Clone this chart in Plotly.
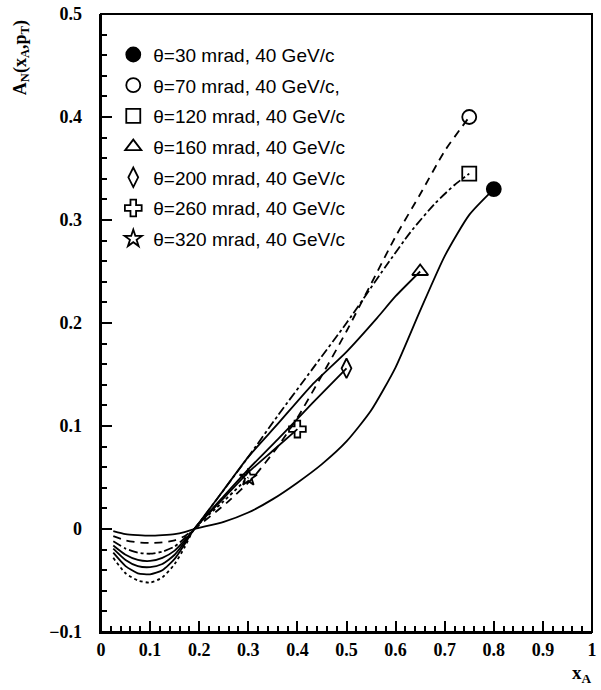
import plotly.graph_objects as go

# Analysing power A_N(x_A, p_T) versus x_A for several production angles at 40 GeV/c.
x_low = [0.025, 0.05, 0.075, 0.1, 0.125, 0.15, 0.17, 0.19]

x_30 = x_low + [0.25, 0.3, 0.35, 0.4, 0.45, 0.5, 0.55, 0.6, 0.65, 0.7, 0.75, 0.8]
y_30 = [-0.002, -0.005, -0.006, -0.0065, -0.006, -0.005, -0.003, 0,
        0.007, 0.016, 0.029, 0.045, 0.063, 0.085, 0.115, 0.157, 0.212, 0.265, 0.305, 0.33]

x_70 = x_low + [0.26, 0.31, 0.36, 0.40, 0.445, 0.5, 0.55, 0.6, 0.65, 0.7, 0.75]
y_70 = [-0.007, -0.011, -0.013, -0.0135, -0.013, -0.011, -0.007, 0,
        0.027, 0.05, 0.08, 0.108, 0.145, 0.192, 0.238, 0.284, 0.325, 0.367, 0.40]

x_120 = x_low + [0.25, 0.3, 0.36, 0.43, 0.5, 0.58, 0.63, 0.68, 0.72, 0.75]
y_120 = [-0.012, -0.019, -0.023, -0.024, -0.022, -0.017, -0.009, 0,
         0.038, 0.07, 0.11, 0.155, 0.2, 0.255, 0.288, 0.316, 0.334, 0.345]

x_160 = x_low + [0.25, 0.3, 0.36, 0.43, 0.5, 0.5625, 0.6, 0.65]
y_160 = [-0.016, -0.025, -0.030, -0.031, -0.028, -0.021, -0.011, 0,
         0.038, 0.07, 0.102, 0.14, 0.172, 0.205, 0.226, 0.25]

x_200 = x_low + [0.25, 0.3, 0.36, 0.43, 0.5]
y_200 = [-0.019, -0.030, -0.036, -0.037, -0.034, -0.025, -0.013, 0,
         0.032, 0.058, 0.087, 0.122, 0.156]

x_260 = x_low + [0.25, 0.3, 0.35, 0.4]
y_260 = [-0.023, -0.036, -0.043, -0.044, -0.040, -0.029, -0.015, 0,
         0.03, 0.055, 0.076, 0.097]

x_320 = x_low + [0.25, 0.3]
y_320 = [-0.028, -0.043, -0.050, -0.052, -0.047, -0.034, -0.018, 0,
         0.027, 0.05]

labels = [
    "θ=30 mrad, 40 GeV/c",
    "θ=70 mrad, 40 GeV/c,",
    "θ=120 mrad, 40 GeV/c",
    "θ=160 mrad, 40 GeV/c",
    "θ=200 mrad, 40 GeV/c",
    "θ=260 mrad, 40 GeV/c",
    "θ=320 mrad, 40 GeV/c",
]

series = [
    (x_30, y_30, "solid", "circle"),
    (x_70, y_70, "8px,6px", "circle-open"),
    (x_120, y_120, "dashdot", "square-open"),
    (x_160, y_160, "solid", "triangle-up-open"),
    (x_200, y_200, "solid", "diamond-tall-open"),
    (x_260, y_260, "solid", "cross-open"),
    (x_320, y_320, "dot", "star-open"),
]

fig = go.Figure()

for i, (xs, ys, dash, sym) in enumerate(series):
    # curve
    fig.add_trace(go.Scatter(
        x=xs, y=ys, mode="lines",
        line=dict(color="black", width=1.8, dash=dash, shape="spline", smoothing=0.6),
        showlegend=False,
    ))
    # end-point marker, also used for the legend entry
    fig.add_trace(go.Scatter(
        x=[xs[-1]], y=[ys[-1]], mode="markers",
        marker=dict(symbol=sym, size=14 if i < 6 else 13, color="black",
                    line=dict(color="black", width=1.8)),
        name=labels[i], legendgroup=f"g{i}", showlegend=True,
    ))

serif = "Liberation Serif"

fig.update_layout(
    width=601, height=690,
    margin=dict(l=101, r=4, t=13, b=58),
    paper_bgcolor="white", plot_bgcolor="white",
    showlegend=True,
    legend=dict(
        x=0.025, y=0.965, xanchor="left", yanchor="top",
        font=dict(family="Liberation Sans", size=19, color="black"),
        bgcolor="rgba(0,0,0,0)", borderwidth=0,
        traceorder="grouped", tracegroupgap=3,
    ),
    xaxis=dict(
        range=[0, 1], dtick=0.1, ticks="inside", ticklen=11, tickwidth=2, tickcolor="black",
        minor=dict(ticks="inside", ticklen=6, dtick=0.02, tickcolor="black"),
        showline=True, linewidth=2, linecolor="black", showgrid=False,
        ticklabeloverflow="allow", layer="above traces",
        tickfont=dict(family=serif, size=18, color="black", weight="bold"),
    ),
    yaxis=dict(
        range=[-0.1, 0.5], dtick=0.1, ticks="inside", ticklen=11, tickwidth=2, tickcolor="black",
        minor=dict(ticks="inside", ticklen=6, dtick=0.02, tickcolor="black"),
        showline=True, linewidth=2, linecolor="black", showgrid=False,
        ticklabeloverflow="allow", layer="above traces",
        ticksuffix="\u00a0\u00a0\u00a0",
        tickfont=dict(family=serif, size=18, color="black", weight="bold"),
    ),
    shapes=[
        # closing frame on the top and right sides
        dict(type="rect", xref="paper", yref="paper", x0=0, y0=0, x1=1, y1=1,
             line=dict(color="black", width=2), fillcolor="rgba(0,0,0,0)", layer="above"),
    ],
    annotations=[
        dict(text="<b>A<sub>N</sub>(x<sub>A</sub>,p<sub>T</sub>)</b>",
             xref="paper", yref="paper", x=-0.163, y=0.93,
             xanchor="center", yanchor="middle", textangle=-90, showarrow=False,
             font=dict(family=serif, size=18, color="black")),
        dict(text="<b>x<sub>A</sub></b>",
             xref="paper", yref="paper", x=0.98, y=-0.068,
             xanchor="center", yanchor="middle", showarrow=False,
             font=dict(family=serif, size=19, color="black")),
    ],
)

fig.write_html("out.html")
